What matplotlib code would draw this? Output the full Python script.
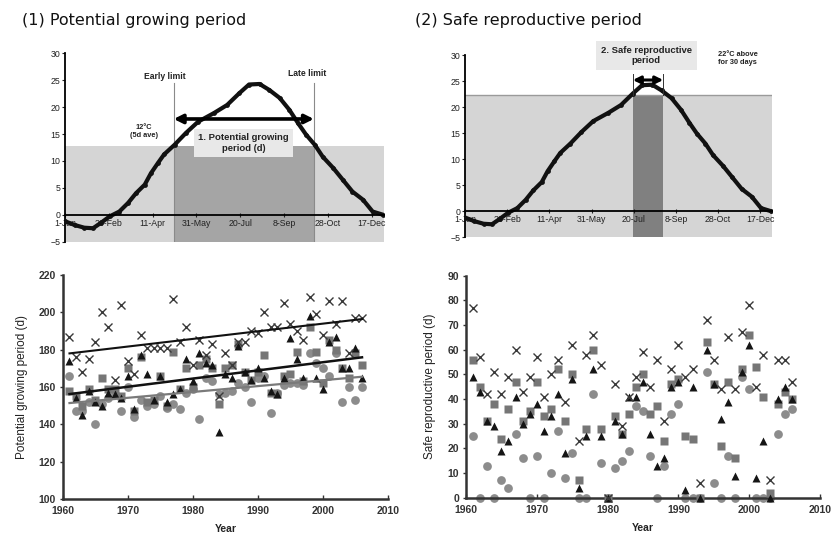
import matplotlib
matplotlib.use("Agg")
import matplotlib.pyplot as plt
from matplotlib.patches import Rectangle

plt.rcParams['font.family'] = ['Liberation Sans', 'DejaVu Sans']

# ---------------- data ----------------
# daily mean temperature curve (day of year, deg C)
temp_days = [1, 12, 23, 33, 42, 52, 63, 73, 82, 92, 99, 107, 114, 126, 139, 153, 171, 186, 200, 211,
             223, 234, 246, 257, 267, 276, 286, 295, 307, 318, 329, 341, 352, 364]
temp_vals = [-1.2, -1.9, -2.4, -2.5, -1.5, -0.3, 0.6, 2.2, 4.0, 5.6, 7.7, 9.6, 11.2, 13.0, 15.2, 17.3,
             18.9, 20.4, 22.6, 24.2, 24.3, 23.2, 21.7, 19.5, 17.0, 14.9, 13.0, 10.8, 8.7, 6.5, 4.3, 2.8,
             0.6, 0.0]
date_tick_days = [1, 51, 101, 151, 201, 251, 301, 351]
date_tick_labels = ['1-Jan', '20-Feb', '11-Apr', '31-May', '20-Jul', '8-Sep', '28-Oct', '17-Dec']

pgp_threshold = 12.8       # 12 C (5d ave)
pgp_early_day = 125
pgp_late_day = 285
srp_threshold = 22.3       # 22 C above
srp_start_day = 200
srp_end_day = 236

years = list(range(1961, 2007))

pgp_cross = [187, 176, 168, 175, 184, 200, 192, 164, 204, 174,
             167, 188, 181, 181, 181, 181, 207, 184, 192, 172,
             185, 177, 183, 155, 178, 172, 184, 184, 190, 189,
             200, 192, 192, 205, 194, 190, 185, 208, 199, 188,
             206, 194, 206, 178, 197, 197]
pgp_square = [158, 155, 150, 159, 153, 165, 159, 159, 155, 170,
              147, 176, 152, 153, 166, 150, 179, 159, 170, 160,
              172, 175, 170, 151, 170, 172, 183, 168, 164, 168,
              177, 157, 156, 166, 167, 179, 163, 192, 179, 162,
              185, 180, 170, 165, 178, 172]
pgp_triangle = [174, 154, 145, 158, 152, 150, 157, 156, 154, 166,
                148, 177, 167, 153, 166, 152, 156, 159, 175, 163,
                178, 173, 172, 136, 167, 165, 182, 168, 164, 170,
                165, 158, 156, 165, 186, 175, 165, 198, 165, 159,
                184, 187, 170, 170, 181, 165]
pgp_circle = [166, 147, 147, 152, 140, 151, 154, 156, 147, 160,
              144, 153, 150, 151, 155, 149, 151, 148, 157, 159,
              143, 165, 163, 156, 157, 158, 162, 160, 152, 165,
              166, 146, 157, 161, 162, 162, 161, 178, 173, 170,
              166, 178, 152, 160, 153, 160]

trend_years = [1961, 2006]
trend_top = [178.0, 196.4]
trend_mid = [156.2, 175.9]
trend_low = [151.4, 165.5]

srp_cross = [77, 57, 42, 51, 42, 49, 60, 43, 49, 57,
             41, 50, 56, 39, 62, 23, 58, 66, 54, 0,
             46, 29, 41, 49, 59, 45, 56, 31, 52, 62,
             49, 52, 6, 72, 56, 44, 65, 44, 67, 78,
             45, 58, 7, 56, 56, 47]
srp_square = [56, 45, 31, 38, 24, 36, 47, 31, 35, 47,
              33, 36, 52, 31, 50, 7, 28, 60, 28, 0,
              33, 26, 34, 45, 50, 34, 37, 23, 46, 48,
              25, 24, 0, 63, 46, 21, 47, 16, 52, 66,
              53, 41, 2, 38, 43, 40]
srp_triangle = [49, 43, 31, 29, 19, 23, 41, 30, 34, 38,
                27, 33, 42, 18, 48, 4, 25, 52, 25, 0,
                31, 26, 41, 41, 47, 26, 13, 16, 45, 47,
                3, 45, 0, 60, 46, 32, 39, 9, 51, 62,
                8, 23, 0, 40, 45, 40]
srp_circle = [25, 0, 13, 0, 7, 4, 26, 16, 0, 17,
              0, 10, 27, 8, 18, 0, 0, 42, 14, 0,
              12, 15, 19, 37, 35, 17, 0, 13, 34, 38,
              0, 0, 0, 51, 6, 0, 17, 0, 49, 44,
              0, 0, 0, 26, 34, 36]

# ---------------- figure ----------------
W, H = 832, 537
fig = plt.figure(figsize=(W / 100, H / 100), dpi=100)


def px_axes(x0, y0, x1, y1):
    return fig.add_axes([x0 / W, 1 - y1 / H, (x1 - x0) / W, (y1 - y0) / H])


TXT = '#222222'


def style_temp_axes(ax):
    ax.set_xlim(1, 365)
    ax.set_ylim(-5, 30)
    for s in ['top', 'right']:
        ax.spines[s].set_visible(False)
    ax.spines['bottom'].set_position(('data', 0))
    ax.spines['bottom'].set_linewidth(1.3)
    ax.spines['left'].set_linewidth(1.3)
    ax.spines['bottom'].set_zorder(4)
    ax.set_yticks(range(-5, 31, 5))
    ax.set_xticks(date_tick_days)
    ax.set_xticklabels(date_tick_labels)
    ax.tick_params(axis='both', labelsize=6.3, colors='#222222', length=2, width=0.8, pad=1.5)
    ax.tick_params(axis='x', direction='inout', length=3)
    ax.patch.set_alpha(0)


# ---------- top-left ----------
ax1 = px_axes(65, 53.3, 384, 241.7)
style_temp_axes(ax1)
ax1.add_patch(Rectangle((1, -5), 364, pgp_threshold + 5, facecolor='#d5d5d5', edgecolor='none', zorder=0))
ax1.add_patch(Rectangle((pgp_early_day, -5), pgp_late_day - pgp_early_day, pgp_threshold + 5,
                        facecolor='#a5a5a5', edgecolor='none', zorder=0.5))
for d in (pgp_early_day, pgp_late_day):
    ax1.plot([d, d], [-5, 24.5], color='#8a8a8a', lw=0.8, zorder=1)
ax1.plot(temp_days, temp_vals, color='#111111', lw=3.0, marker='o', ms=2.4, zorder=3)
ax1.annotate('', xy=(pgp_early_day, 17.8), xytext=(pgp_late_day, 17.8),
             arrowprops=dict(arrowstyle='<|-|>', lw=2.6, color='black', mutation_scale=13,
                             shrinkA=0, shrinkB=0), zorder=5)
ax1.text(205, 13.4, '1. Potential growing\nperiod (d)', ha='center', va='center', fontsize=6.8,
         fontweight='bold', color=TXT, linespacing=1.25, zorder=6,
         bbox=dict(boxstyle='square,pad=0.45', facecolor='#e8e8e8', edgecolor='none'))
ax1.text(115, 25.7, 'Early limit', ha='center', va='center', fontsize=6.2, fontweight='bold', color=TXT)
ax1.text(277, 26.3, 'Late limit', ha='center', va='center', fontsize=6.2, fontweight='bold', color=TXT)
ax1.text(91, 15.5, '12°C\n(5d ave)', ha='center', va='center', fontsize=5.3, fontweight='bold',
         color=TXT, linespacing=1.2)

# ---------- top-right ----------
ax2 = px_axes(465, 55, 772, 237.3)
style_temp_axes(ax2)
ax2.add_patch(Rectangle((1, -5), 364, srp_threshold + 5, facecolor='#d5d5d5', edgecolor='none', zorder=0))
ax2.plot([1, 365], [srp_threshold, srp_threshold], color='#9a9a9a', lw=1.0, zorder=0.6)
ax2.add_patch(Rectangle((srp_start_day, -5), srp_end_day - srp_start_day, srp_threshold + 5,
                        facecolor='#808080', edgecolor='none', zorder=0.5))
ax2.plot(temp_days, temp_vals, color='#111111', lw=3.0, marker='o', ms=2.4, zorder=3)
for d in (srp_start_day, srp_end_day):
    ax2.plot([d, d], [srp_threshold, 26.3], color='#333333', lw=0.7, zorder=4)
ax2.annotate('', xy=(srp_start_day, 25.2), xytext=(srp_end_day, 25.2),
             arrowprops=dict(arrowstyle='<|-|>', lw=2.2, color='black', mutation_scale=11,
                             shrinkA=0, shrinkB=0), zorder=5)
ax2.text(216, 29.9, '2. Safe reproductive\nperiod', ha='center', va='center', fontsize=6.8,
         fontweight='bold', color=TXT, linespacing=1.25, clip_on=False, zorder=6,
         bbox=dict(boxstyle='square,pad=0.5', facecolor='#e8e8e8', edgecolor='none'))
ax2.text(301, 29.4, '22°C above\nfor 30 days', ha='left', va='center', fontsize=5.3,
         fontweight='bold', color=TXT, linespacing=1.2, clip_on=False)

# ---------- titles ----------
fig.text(22 / W, 1 - 20 / H, '(1) Potential growing period', fontsize=11.5, va='center',
         color='#111111', family='DejaVu Sans')
fig.text(415 / W, 1 - 20 / H, '(2) Safe reproductive period', fontsize=11.5, va='center',
         color='#111111', family='DejaVu Sans')


def style_year_axes(ax, ylim, ystep, ylabel):
    ax.set_xlim(1960, 2010)
    ax.set_ylim(*ylim)
    for s in ['top', 'right']:
        ax.spines[s].set_visible(False)
    for s in ['left', 'bottom']:
        ax.spines[s].set_linewidth(1.8)
        ax.spines[s].set_color('#333333')
    ax.set_xticks(range(1960, 2011, 10))
    ax.set_yticks(range(ylim[0], ylim[1] + 1, ystep))
    ax.tick_params(axis='both', labelsize=7.5, colors='#333333', width=1)
    ax.tick_params(axis='x', direction='in', length=3, pad=5)
    ax.tick_params(axis='y', direction='out', length=2, pad=3)
    for lab in ax.get_xticklabels() + ax.get_yticklabels():
        lab.set_fontweight('bold')
    ax.set_xlabel('Year', fontsize=7.5, fontweight='bold', color='#222222', labelpad=6)
    ax.set_ylabel(ylabel, fontsize=8.5, color='#222222', labelpad=8)


def scatter_series(ax, cross, square, tri, circ):
    ax.plot(years, circ, 'o', color='#8c8c8c', ms=6.3, mec='none', clip_on=False, zorder=2)
    ax.plot(years, square, 's', color='#767676', ms=5.4, mec='none', clip_on=False, zorder=3)
    ax.plot(years, tri, '^', color='#151515', ms=6, mec='none', clip_on=False, zorder=4)
    ax.plot(years, cross, 'x', color='#3a3a3a', ms=6.3, mew=1.0, clip_on=False, zorder=5)


# ---------- bottom-left ----------
ax3 = px_axes(63, 275, 388, 499)
style_year_axes(ax3, (100, 220), 20, 'Potential growing period (d)')
scatter_series(ax3, pgp_cross, pgp_square, pgp_triangle, pgp_circle)
ax3.plot(trend_years, trend_top, color='#111111', lw=1.5, zorder=6)
ax3.plot(trend_years, trend_mid, color='#111111', lw=1.8, zorder=6)
ax3.plot(trend_years, trend_low, color='#7a7a7a', lw=1.6, zorder=6)

# ---------- bottom-right ----------
ax4 = px_axes(466, 275.7, 820, 497.7)
style_year_axes(ax4, (0, 90), 10, 'Safe reproductive period (d)')
scatter_series(ax4, srp_cross, srp_square, srp_triangle, srp_circle)

fig.savefig('out.png', dpi=100, facecolor='white')
